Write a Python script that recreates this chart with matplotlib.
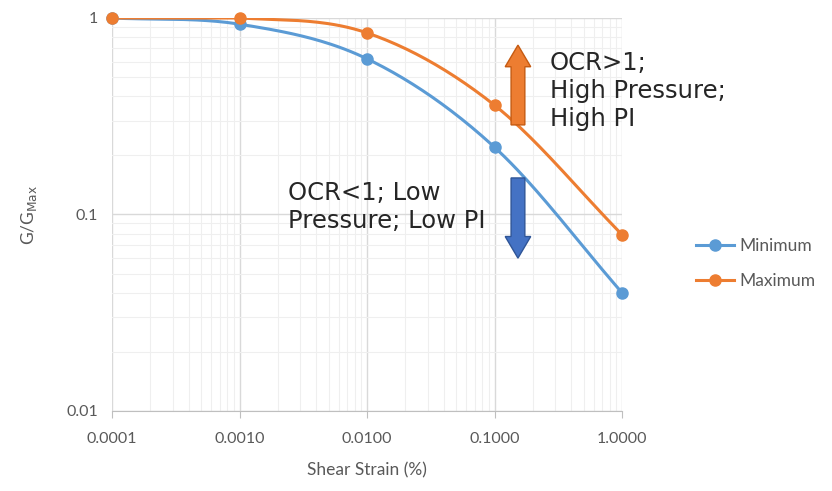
import numpy as np
import matplotlib.pyplot as plt
from matplotlib.patches import FancyArrow

strain = [0.0001, 0.001, 0.01, 0.1, 1.0]
g_min = [1.0, 0.93, 0.62, 0.22, 0.04]
g_max = [1.0, 1.0, 0.84, 0.36, 0.079]
x_labels = ["0.0001", "0.0010", "0.0100", "0.1000", "1.0000"]
y_ticks = [0.01, 0.1, 1]
y_labels = ["0.01", "0.1", "1"]

blue = "#5B9BD5"
orange = "#ED7D31"


def smooth(xs, ys, n=40):
    # Excel-style smoothed line: Catmull-Rom in log-log space
    lx = np.log10(xs)
    ly = np.log10(ys)
    px = np.concatenate([[2 * lx[0] - lx[1]], lx, [2 * lx[-1] - lx[-2]]])
    py = np.concatenate([[2 * ly[0] - ly[1]], ly, [2 * ly[-1] - ly[-2]]])
    outx, outy = [], []
    for i in range(1, len(px) - 2):
        t = np.linspace(0, 1, n)
        for p, out in ((px, outx), (py, outy)):
            p0, p1, p2, p3 = p[i - 1], p[i], p[i + 1], p[i + 2]
            out.extend(0.5 * (2 * p1 + (-p0 + p2) * t
                              + (2 * p0 - 5 * p1 + 4 * p2 - p3) * t ** 2
                              + (-p0 + 3 * p1 - 3 * p2 + p3) * t ** 3))
    return 10 ** np.array(outx), 10 ** np.array(outy)


fig = plt.figure(figsize=(8.32, 4.91), dpi=100)
ax = fig.add_axes([112 / 832, 80 / 491, 510 / 832, 393 / 491])

for ys, c, name in ((g_min, blue, "Minimum"), (g_max, orange, "Maximum")):
    sx, sy = smooth(strain, ys)
    ax.plot(sx, np.minimum(sy, 1.0), color=c, lw=2.2, zorder=3)
    ax.plot(strain, ys, "o", color=c, ms=8, zorder=4, clip_on=False)
    ax.plot([], [], "-o", color=c, lw=2.2, ms=8, label=name)

ax.set_xscale("log")
ax.set_yscale("log")
ax.set_xlim(0.0001, 1.0)
ax.set_ylim(0.01, 1.0)
ax.set_xticks(strain)
ax.set_xticklabels(x_labels, family="Lato")
ax.set_yticks(y_ticks)
ax.set_yticklabels(y_labels, family="Lato")
ax.minorticks_on()
ax.tick_params(axis="x", which="minor", length=0)
ax.tick_params(axis="y", which="both", length=0)
ax.tick_params(axis="x", which="major", length=5, color="#bfbfbf")
ax.tick_params(labelsize=11.5, labelcolor="#595959", pad=10)
ax.grid(True, which="major", color="#d9d9d9", lw=1)
ax.grid(True, which="minor", color="#efefef", lw=0.8)
for s in ["top", "right", "left"]:
    ax.spines[s].set_visible(False)
ax.spines["bottom"].set_color("#bfbfbf")
ax.set_axisbelow(True)

ax.set_xlabel("Shear Strain (%)", fontsize=12.5, color="#595959", labelpad=12, family="Lato")
ax.set_ylabel("G/G$_{\\mathrm{Max}}$", fontsize=12.5, color="#595959", labelpad=20, family="Lato")

# arrows (drawn in axes-fraction coords)
ax.add_patch(FancyArrow(0.796, 0.728, 0, 0.203, width=0.027, head_width=0.05,
                        head_length=0.055, length_includes_head=True,
                        transform=ax.transAxes,
                        color=orange, ec="#c55a11", lw=1, zorder=5))
ax.add_patch(FancyArrow(0.796, 0.593, 0, -0.204, width=0.027, head_width=0.05,
                        head_length=0.055, length_includes_head=True,
                        transform=ax.transAxes,
                        color="#4472C4", ec="#2f5597", lw=1, zorder=5))

ax.text(0.859, 0.915, "OCR>1;\nHigh Pressure;\nHigh PI", transform=ax.transAxes,
        fontsize=17.5, color="#262626", va="top", ha="left", linespacing=1.2)
ax.text(0.345, 0.585, "OCR<1; Low\nPressure; Low PI", transform=ax.transAxes,
        fontsize=17.5, color="#262626", va="top", ha="left", linespacing=1.2)

fig.legend(loc="upper left", bbox_to_anchor=(680 / 832, 1 - 222 / 491), frameon=False,
           prop={"family": "Lato", "size": 12.5}, labelcolor="#595959",
           handlelength=2.2, labelspacing=1.1, handletextpad=0.3)

fig.savefig("out.png", dpi=100)
